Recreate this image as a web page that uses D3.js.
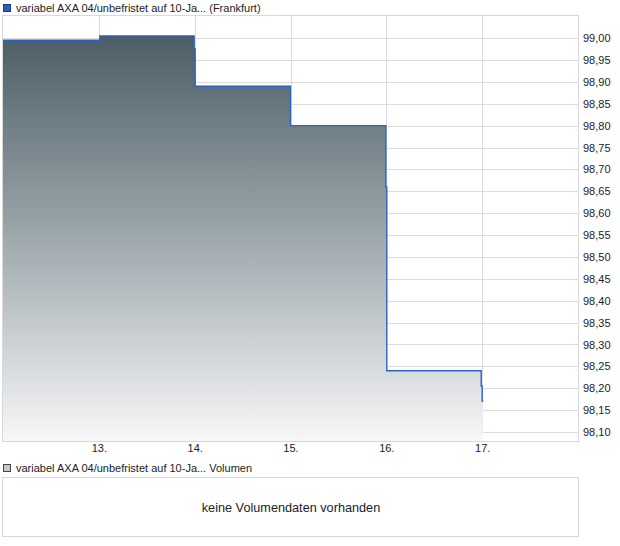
<!DOCTYPE html>
<html>
<head>
<meta charset="utf-8">
<script src="https://cdn.jsdelivr.net/npm/d3@7"></script>
<style>
html,body{margin:0;padding:0;background:#fff;}
svg{display:block;font-family:"Liberation Sans",Arial,sans-serif;}
</style>
</head>
<body>
<svg id="chart" width="620" height="546"></svg>
<script>
// ---- data ----
const seriesName = "variabel AXA 04/unbefristet auf 10-Ja... (Frankfurt)";
const volumeName = "variabel AXA 04/unbefristet auf 10-Ja... Volumen";
const noVolumeText = "keine Volumendaten vorhanden";
// day of month (fractional = intraday) and price
const days   = [12.0,   13.01,  13.995, 14.005, 15.0,  15.995, 16.005, 16.99,  17.0,   17.01];
const prices = [98.995, 99.005, 98.975, 98.89,  98.80, 98.66,  98.24,  98.205, 98.17,  98.17];
const xTickDays = [13, 14, 15, 16, 17];
const xTickLabels = ["13.", "14.", "15.", "16.", "17."];
const yTicks = [99.00,98.95,98.90,98.85,98.80,98.75,98.70,98.65,98.60,98.55,98.50,98.45,98.40,98.35,98.30,98.25,98.20,98.15,98.10];

const data = days.map((d,i)=>({d, v: prices[i]}));

const svg = d3.select("#chart");
const L = 3, R = 578, T = 16, B = 441;
const x = d3.scaleLinear().domain([12, 18]).range([L, R]);
const y = d3.scaleLinear().domain([98.0795, 99.0505]).range([B, T]);

// gradient
const defs = svg.append("defs");
const grad = defs.append("linearGradient").attr("id","g")
  .attr("gradientUnits","userSpaceOnUse").attr("x1",0).attr("x2",0).attr("y1",T).attr("y2",B);
grad.append("stop").attr("offset","0%").attr("stop-color","#44565f");
grad.append("stop").attr("offset","50%").attr("stop-color","#9aa5aa");
grad.append("stop").attr("offset","100%").attr("stop-color","#f7f7f8");

// grid
const grid = svg.append("g");
grid.selectAll(".hy").data(yTicks).join("line")
  .attr("x1",L).attr("x2",R).attr("y1",d=>Math.round(y(d))+0.5).attr("y2",d=>Math.round(y(d))+0.5)
  .attr("stroke","#dcdcdc").attr("stroke-width",1);
grid.selectAll(".vx").data(xTickDays).join("line")
  .attr("x1",d=>Math.round(x(d))+0.5).attr("x2",d=>Math.round(x(d))+0.5).attr("y1",T).attr("y2",B)
  .attr("stroke","#dcdcdc").attr("stroke-width",1);

// area + line
const area = d3.area().x(d=>x(d.d)).y0(B).y1(d=>y(d.v)).curve(d3.curveStepAfter);
const line = d3.line().x(d=>x(d.d)).y(d=>y(d.v)).curve(d3.curveStepAfter);
svg.append("path").datum(data).attr("d",area).attr("fill","url(#g)");
svg.append("path").datum(data).attr("d",line).attr("fill","none")
  .attr("stroke","#2a63c4").attr("stroke-width",1.4);

// frame
svg.append("rect").attr("x",L-0.5).attr("y",T-0.5).attr("width",R-L+1).attr("height",B-T+1)
  .attr("fill","none").attr("stroke","#d8d8d8");

// y axis (right)
const yAxis = d3.axisRight(y).tickValues(yTicks).tickSize(0).tickPadding(5)
  .tickFormat(d=>d3.format(".2f")(d).replace(".",","));
const gy = svg.append("g").attr("transform",`translate(${R},0)`).call(yAxis);
gy.select(".domain").remove();
gy.selectAll("text").attr("font-size",11).attr("fill","#222").attr("font-family","Liberation Sans, Arial, sans-serif");

// x axis
const xAxis = d3.axisBottom(x).tickValues(xTickDays).tickSize(0).tickPadding(3)
  .tickFormat((d,i)=>xTickLabels[i]);
const gx = svg.append("g").attr("transform",`translate(0,${B})`).call(xAxis);
gx.select(".domain").remove();
gx.selectAll("text").attr("font-size",11).attr("fill","#222").attr("font-family","Liberation Sans, Arial, sans-serif");

// legend top
svg.append("rect").attr("x",3.5).attr("y",4.5).attr("width",7).attr("height",7)
  .attr("fill","#2a5fc0").attr("stroke","#1a3f80");
svg.append("text").attr("x",16).attr("y",12).attr("font-size",11).attr("fill","#222").text(seriesName);

// volume panel
svg.append("rect").attr("x",3.5).attr("y",464.5).attr("width",7).attr("height",7)
  .attr("fill","#c8c8c8").attr("stroke","#444");
svg.append("text").attr("x",16).attr("y",472).attr("font-size",11).attr("fill","#222").text(volumeName);
svg.append("rect").attr("x",2.5).attr("y",477.5).attr("width",576).attr("height",59)
  .attr("fill","#fff").attr("stroke","#d8d8d8");
svg.append("text").attr("x",291).attr("y",512).attr("text-anchor","middle").attr("font-size",12.7)
  .attr("fill","#222").text(noVolumeText);
</script>
</body>
</html>
